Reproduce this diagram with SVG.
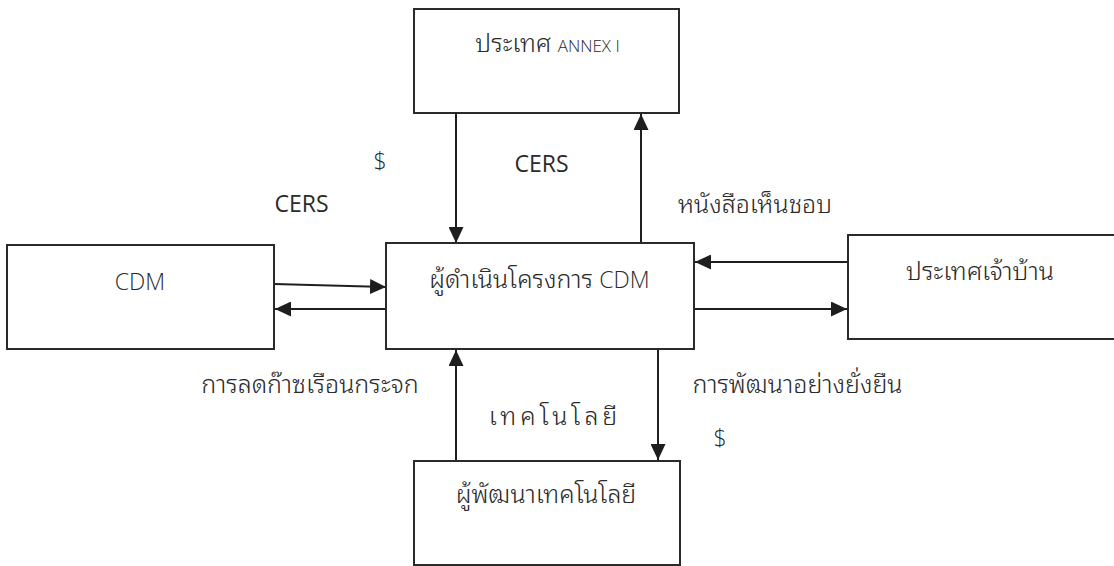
<svg xmlns="http://www.w3.org/2000/svg" width="1114" height="566" viewBox="0 0 1114 566">
<style>
.box{fill:#fff;stroke:#2a2a2a;stroke-width:2}
.ln{stroke:#1e1e1e;stroke-width:2;fill:none}
text{font-family:"Open Sans","Noto Sans Thai Looped","Noto Serif Thai","Loma","Garuda","Norasi","Noto Sans Thai","Noto Sans","DejaVu Sans",sans-serif;fill:#2a2a2a;font-size:25px;font-weight:300;text-anchor:middle}
.lat{font-size:23px}
.reg{font-weight:400}
.sm{font-size:17px}
</style>
<defs>
<marker id="ah" markerUnits="userSpaceOnUse" markerWidth="16" markerHeight="15" refX="16" refY="7.5" orient="auto">
<path d="M0,0 L16,7.5 L0,15 Z" fill="#1e1e1e"/>
</marker>
</defs>
<rect width="1114" height="566" fill="#fff"/>
<g id="connectors">
<line class="ln" x1="456" y1="113" x2="456" y2="243" marker-end="url(#ah)"/>
<line class="ln" x1="641" y1="243" x2="641" y2="114" marker-end="url(#ah)"/>
<line class="ln" x1="274" y1="284" x2="386" y2="287" marker-end="url(#ah)"/>
<line class="ln" x1="386" y1="309" x2="275" y2="309" marker-end="url(#ah)"/>
<line class="ln" x1="848" y1="262" x2="695" y2="262" marker-end="url(#ah)"/>
<line class="ln" x1="694" y1="309" x2="847" y2="309" marker-end="url(#ah)"/>
<line class="ln" x1="456" y1="461" x2="456" y2="350" marker-end="url(#ah)"/>
<line class="ln" x1="658" y1="349" x2="658" y2="460" marker-end="url(#ah)"/>
<text class="lat" x="380" y="169">$</text>
<text class="lat reg" x="301.5" y="212">CERS</text>
<text class="lat reg" x="541.5" y="172">CERS</text>
<text x="755" y="213">หนังสือเห็นชอบ</text>
<text x="310" y="393">การลดก๊าซเรือนกระจก</text>
<text x="797.5" y="393">การพัฒนาอย่างยั่งยืน</text>
<text class="lat" x="720" y="446">$</text>
<text x="555" y="425" letter-spacing="4">เทคโนโลยี</text>
</g>
<g id="annex">
<rect class="box" x="414" y="9" width="265" height="104"/>
<text x="547.5" y="52">ประเทศ <tspan class="sm">ANNEX I</tspan></text>
</g>
<g id="cdm">
<rect class="box" x="7" y="245" width="267" height="104"/>
<text class="lat" x="140" y="290">CDM</text>
</g>
<g id="operator">
<rect class="box" x="386" y="243" width="308" height="106"/>
<text x="539.5" y="288">ผู้ดำเนินโครงการ <tspan class="lat">CDM</tspan></text>
</g>
<g id="host">
<rect class="box" x="848" y="235" width="268" height="104"/>
<text x="980" y="280">ประเทศเจ้าบ้าน</text>
</g>
<g id="developer">
<rect class="box" x="414" y="461" width="266" height="104"/>
<text x="546" y="503">ผู้พัฒนาเทคโนโลยี</text>
</g>
</svg>
